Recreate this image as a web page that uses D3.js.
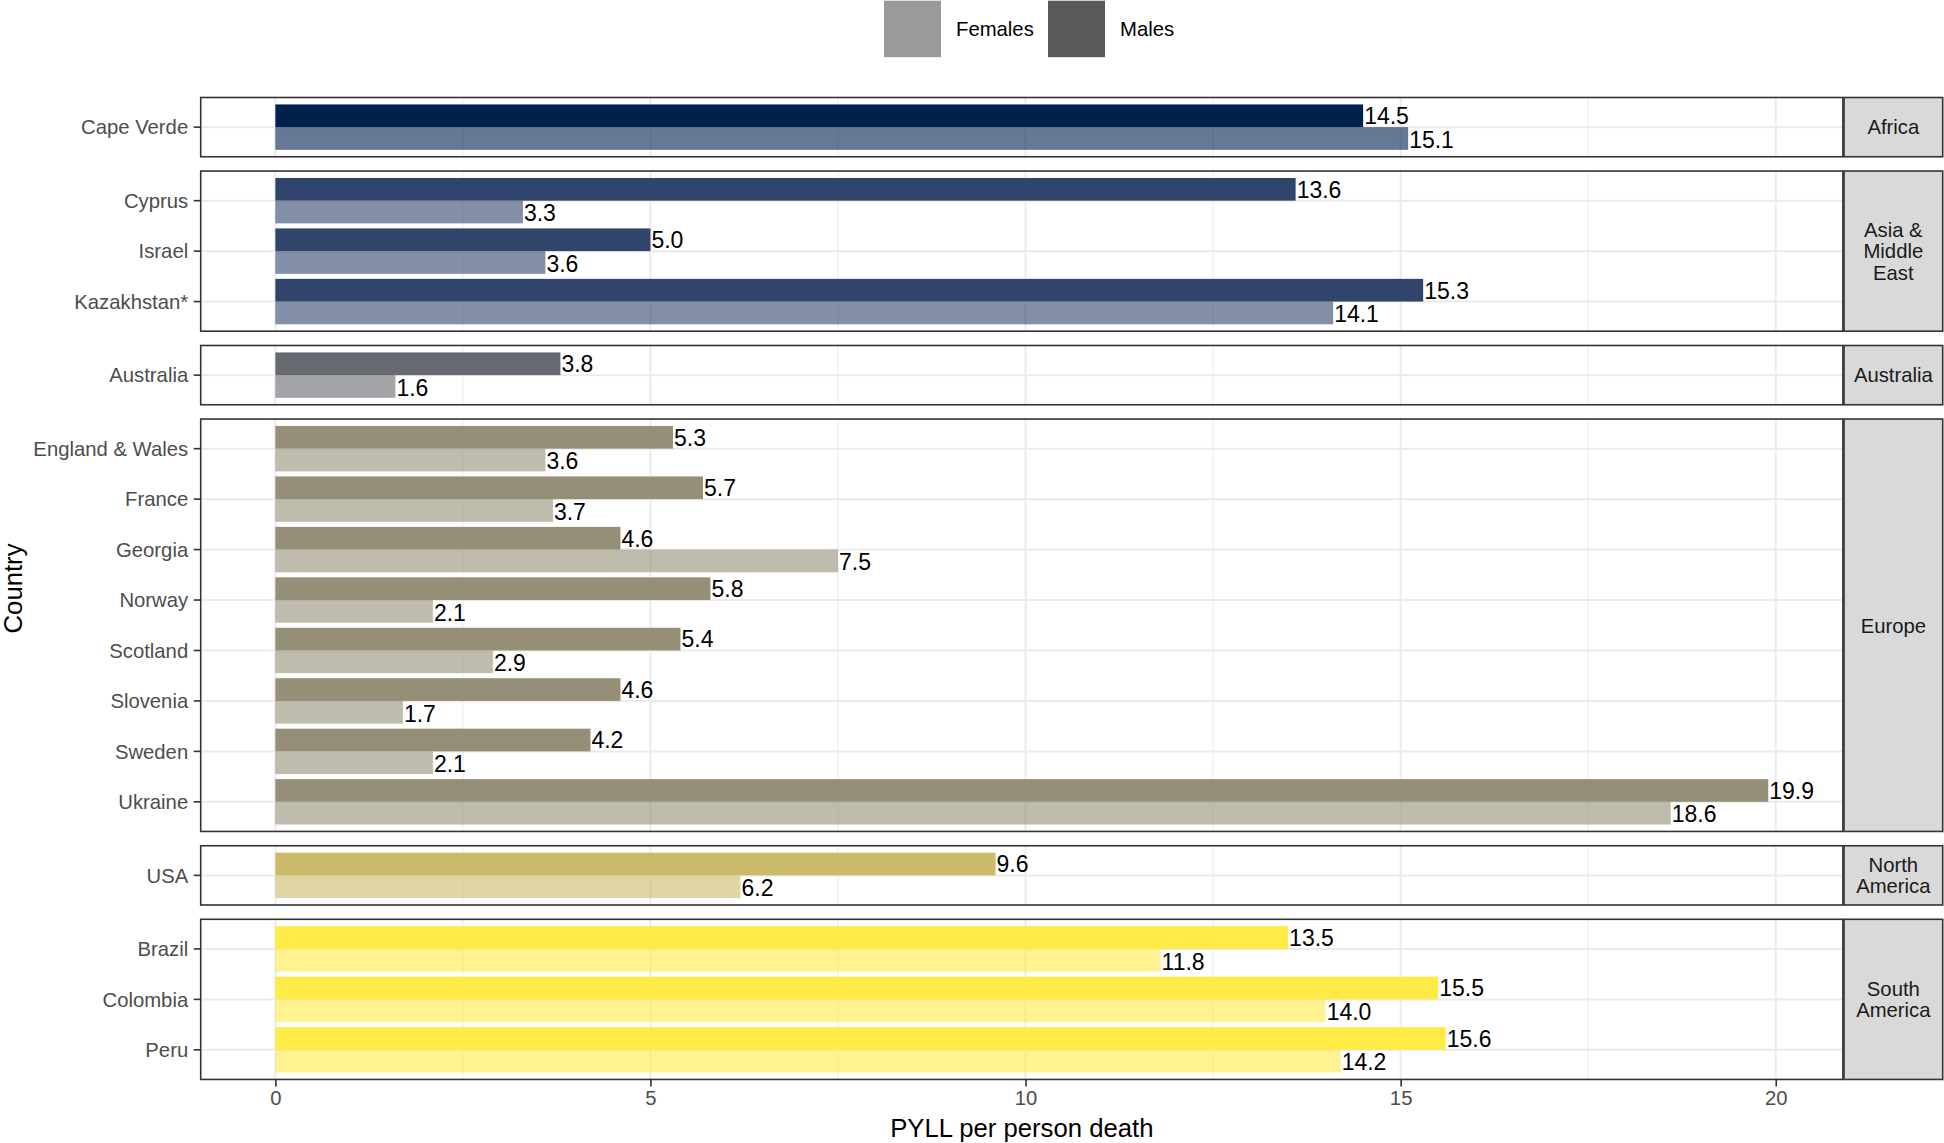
<!DOCTYPE html>
<html>
<head>
<meta charset="utf-8">
<script src="https://cdn.jsdelivr.net/npm/d3@7"></script>
<style>
  html, body { margin: 0; padding: 0; background: #ffffff; }
  svg { display: block; font-family: "Liberation Sans", Arial, sans-serif; }
</style>
</head>
<body>
<svg id="chart" width="1944" height="1143"></svg>
<script>
// ---------- DATA ----------
const regions = ["Africa", "Asia & Middle East", "Australia", "Europe", "North America", "South America"];
const regionStripLabels = [["Africa"], ["Asia &", "Middle", "East"], ["Australia"], ["Europe"], ["North", "America"], ["South", "America"]];
const regionColors = ["#00204D", "#31446B", "#666970", "#958F78", "#CBBA69", "#FFEA46"];
const countries = ["Cape Verde", "Cyprus", "Israel", "Kazakhstan*", "Australia",
  "England & Wales", "France", "Georgia", "Norway", "Scotland", "Slovenia", "Sweden", "Ukraine",
  "USA", "Brazil", "Colombia", "Peru"];
const countryRegion = ["Africa", "Asia & Middle East", "Asia & Middle East", "Asia & Middle East", "Australia",
  "Europe", "Europe", "Europe", "Europe", "Europe", "Europe", "Europe", "Europe",
  "North America", "South America", "South America", "South America"];
const males =   [14.5, 13.6, 5.0, 15.3, 3.8, 5.3, 5.7, 4.6, 5.8, 5.4, 4.6, 4.2, 19.9, 9.6, 13.5, 15.5, 15.6];
const females = [15.1, 3.3, 3.6, 14.1, 1.6, 3.6, 3.7, 7.5, 2.1, 2.9, 1.7, 2.1, 18.6, 6.2, 11.8, 14.0, 14.2];
const sexes = ["Males", "Females"];
const legendLabels = ["Females", "Males"];
const legendColors = ["#9A9A9A", "#595959"];
const xTicks = [0, 5, 10, 15, 20];
const xMinorTicks = [2.5, 7.5, 12.5, 17.5];
const xTitle = "PYLL per person death";
const yTitle = "Country";

// ---------- LAYOUT ----------
const svg = d3.select("#chart");
const panelLeft = 200.7, panelRight = 1842.9;
const stripLeft = 1844, stripRight = 1942.7;
const topY = 97.5, panelGap = 14.3, rowH = 50.45, panelPad = 4.4;
const female_alpha = 0.6;
const tickFont = 20.3, labelFont = 23, titleFont = 25.7;

const maxVal = d3.max(males.concat(females));
const expand = maxVal * 0.05;
const x = d3.scaleLinear().domain([-expand, maxVal + expand]).range([panelLeft, panelRight]);

const rows = countries.map((c, i) => ({ country: c, region: countryRegion[i], m: males[i], f: females[i] }));

let yCursor = topY;
const panels = regions.map((r, i) => {
  const items = rows.filter(d => d.region === r);
  const h = items.length * rowH + 2 * panelPad;
  const p = { region: r, idx: i, items, top: yCursor, bottom: yCursor + h };
  yCursor += h + panelGap;
  return p;
});
const panelsBottom = panels[panels.length - 1].bottom;

const gridCol = "#EBEBEB";
const borderCol = "#333333";

panels.forEach(p => {
  const g = svg.append("g");
  const yBand = d3.scaleBand().domain(p.items.map(d => d.country))
    .range([p.top + panelPad, p.bottom - panelPad]).paddingInner(0).paddingOuter(0);
  const sub = d3.scaleBand().domain(sexes).range([0.05 * yBand.bandwidth(), 0.95 * yBand.bandwidth()]);

  g.append("rect").attr("x", panelLeft).attr("y", p.top).attr("width", panelRight - panelLeft)
    .attr("height", p.bottom - p.top).attr("fill", "#fff");
  g.selectAll(".minor").data(xMinorTicks).enter().append("line")
    .attr("x1", d => x(d)).attr("x2", d => x(d)).attr("y1", p.top).attr("y2", p.bottom)
    .attr("stroke", gridCol).attr("stroke-width", 1);
  g.selectAll(".major").data(xTicks).enter().append("line")
    .attr("x1", d => x(d)).attr("x2", d => x(d)).attr("y1", p.top).attr("y2", p.bottom)
    .attr("stroke", gridCol).attr("stroke-width", 2);
  g.selectAll(".hgrid").data(p.items).enter().append("line")
    .attr("x1", panelLeft).attr("x2", panelRight)
    .attr("y1", d => yBand(d.country) + yBand.bandwidth() / 2)
    .attr("y2", d => yBand(d.country) + yBand.bandwidth() / 2)
    .attr("stroke", gridCol).attr("stroke-width", 2);

  const col = regionColors[p.idx];
  p.items.forEach(d => {
    const y0 = yBand(d.country);
    g.append("rect").attr("x", x(0)).attr("y", y0 + sub("Males"))
      .attr("width", x(d.m) - x(0)).attr("height", sub.bandwidth()).attr("fill", col);
    g.append("rect").attr("x", x(0)).attr("y", y0 + sub("Females"))
      .attr("width", x(d.f) - x(0)).attr("height", sub.bandwidth()).attr("fill", col)
      .attr("fill-opacity", female_alpha);
    g.append("text").attr("x", x(d.m) + 1).attr("y", y0 + sub("Males") + sub.bandwidth() / 2)
      .attr("dy", "0.36em").attr("font-size", labelFont).attr("fill", "#000").text(d3.format(".1f")(d.m));
    g.append("text").attr("x", x(d.f) + 1).attr("y", y0 + sub("Females") + sub.bandwidth() / 2 + 1)
      .attr("dy", "0.36em").attr("font-size", labelFont).attr("fill", "#000").text(d3.format(".1f")(d.f));
  });

  p.items.forEach(d => {
    const yc = yBand(d.country) + yBand.bandwidth() / 2;
    g.append("line").attr("x1", panelLeft - 7).attr("x2", panelLeft).attr("y1", yc).attr("y2", yc)
      .attr("stroke", borderCol).attr("stroke-width", 1.6);
    g.append("text").attr("x", panelLeft - 12.5).attr("y", yc).attr("dy", "0.36em")
      .attr("text-anchor", "end").attr("font-size", tickFont).attr("fill", "#4D4D4D").text(d.country);
  });

  g.append("rect").attr("x", panelLeft).attr("y", p.top).attr("width", panelRight - panelLeft)
    .attr("height", p.bottom - p.top).attr("fill", "none").attr("stroke", borderCol).attr("stroke-width", 1.6);

  g.append("rect").attr("x", stripLeft).attr("y", p.top).attr("width", stripRight - stripLeft)
    .attr("height", p.bottom - p.top).attr("fill", "#D9D9D9").attr("stroke", borderCol).attr("stroke-width", 1.6);
  const lines = regionStripLabels[p.idx];
  const lh = 21.5;
  const cy = (p.top + p.bottom) / 2;
  lines.forEach((t, k) => {
    g.append("text").attr("x", (stripLeft + stripRight) / 2)
      .attr("y", cy + (k - (lines.length - 1) / 2) * lh).attr("dy", "0.36em")
      .attr("text-anchor", "middle").attr("font-size", tickFont).attr("fill", "#1A1A1A").text(t);
  });
});

const xAxisG = svg.append("g").attr("transform", `translate(0,${panelsBottom})`)
  .call(d3.axisBottom(x).tickValues(xTicks).tickSize(7).tickPadding(4).tickFormat(d3.format("d")));
xAxisG.select(".domain").remove();
xAxisG.selectAll(".tick line").attr("stroke", borderCol).attr("stroke-width", 1.6);
xAxisG.selectAll(".tick text").attr("font-size", tickFont).attr("fill", "#4D4D4D")
  .attr("font-family", "Liberation Sans, Arial, sans-serif");

svg.append("text").attr("x", (panelLeft + panelRight) / 2).attr("y", 1137)
  .attr("text-anchor", "middle").attr("font-size", titleFont).attr("fill", "#000").text(xTitle);
svg.append("text").attr("transform", `translate(22,${(topY + panelsBottom) / 2}) rotate(-90)`)
  .attr("text-anchor", "middle").attr("font-size", titleFont).attr("fill", "#000").text(yTitle);

const legendX = [884, 1048];
const legendG = svg.append("g");
legendLabels.forEach((lab, i) => {
  legendG.append("rect").attr("x", legendX[i]).attr("y", 0.7).attr("width", 57).attr("height", 56.5)
    .attr("fill", legendColors[i]);
  legendG.append("text").attr("x", legendX[i] + 72).attr("y", 29).attr("dy", "0.36em")
    .attr("font-size", tickFont).attr("fill", "#000").text(lab);
});
</script>
</body>
</html>
